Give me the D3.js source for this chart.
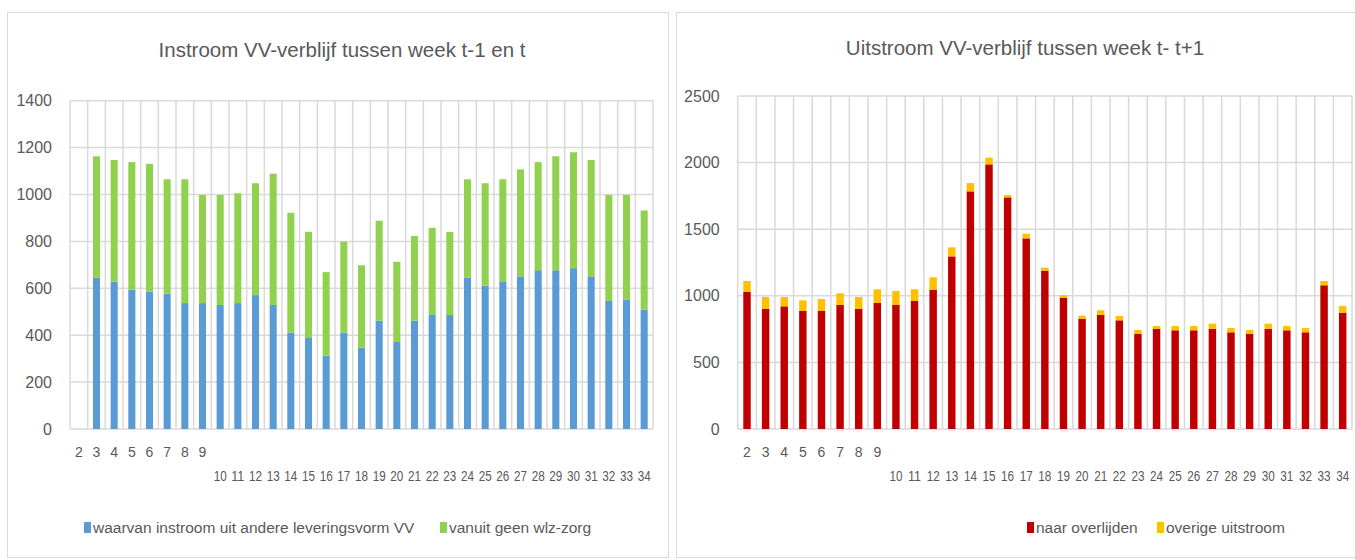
<!DOCTYPE html>
<html>
<head>
<meta charset="utf-8">
<script src="https://cdn.jsdelivr.net/npm/d3@7"></script>
<style>
  body { margin: 0; background: #fff; }
  svg { font-family: "Liberation Sans", Arial, sans-serif; }
</style>
</head>
<body>
<svg id="chart" width="1355" height="560"></svg>
<script>
// weeks on the x axis
var weeks = ["2","3","4","5","6","7","8","9","10","11","12","13","14","15","16","17","18",
             "19","20","21","22","23","24","25","26","27","28","29","30","31","32","33","34"];

// left chart: instroom
var instroomAnders = [0,645,628,594,586,577,537,537,529,537,571,529,411,388,313,411,347,
                      462,371,462,486,486,645,611,630,651,677,677,686,651,546,551,510];
var instroomGeenWlz = [0,518,519,544,545,488,528,461,469,468,477,560,511,453,356,388,351,
                       426,342,361,372,354,420,437,435,456,461,486,494,496,452,447,422];

// right chart: uitstroom
var uitOverlijden = [1031,901,921,886,886,931,901,946,931,961,1046,1296,1784,1987,1739,1431,1189,
                     986,828,856,816,713,753,741,741,753,726,713,753,741,726,1079,873];
var uitOverig = [80,90,70,80,90,88,90,103,105,88,93,68,63,50,18,35,22,
                 18,23,35,32,30,20,32,32,38,32,30,38,32,32,32,50];

var leftTicks = [0,200,400,600,800,1000,1200,1400];
var rightTicks = [0,500,1000,1500,2000,2500];

var svg = d3.select("#chart");
var grid = "#d9d9d9", textCol = "#595959";

function drawPanel(o) {
  var g = svg.append("g");

  // panel border
  g.append("rect")
    .attr("x", o.box[0] + 0.5).attr("y", 12.5)
    .attr("width", o.box[1] - o.box[0]).attr("height", 545)
    .attr("fill", "none").attr("stroke", grid);

  g.append("text")
    .attr("x", o.titleX).attr("y", o.titleY)
    .attr("text-anchor", "middle")
    .attr("font-size", 20.5).attr("fill", textCol)
    .text(o.title);

  var x = d3.scaleBand().domain(weeks)
      .range([o.left, o.right])
      .paddingInner(0.6).paddingOuter(0.3);
  var y = d3.scaleLinear().domain([0, o.max]).range([429, o.top]);

  // horizontal gridlines
  g.selectAll(".hg").data(o.ticks).enter().append("line")
    .attr("x1", o.left).attr("x2", o.right)
    .attr("y1", function(d) { return y(d); }).attr("y2", function(d) { return y(d); })
    .attr("stroke", grid).attr("stroke-width", 1.5);

  // vertical gridlines at category boundaries
  var half = x.step() * x.paddingInner() / 2;
  var bounds = weeks.map(function(d) { return x(d) - half; }).concat([o.right]);
  g.selectAll(".vg").data(bounds).enter().append("line")
    .attr("x1", function(d) { return d; }).attr("x2", function(d) { return d; })
    .attr("y1", y(o.max)).attr("y2", y(0))
    .attr("stroke", grid).attr("stroke-width", 1.5);

  var rows = weeks.map(function(w, i) { return { week: w, a: o.a[i], b: o.b[i] }; });
  var series = d3.stack().keys(["a", "b"])(rows);

  g.selectAll(".s").data(series).enter().append("g")
    .attr("fill", function(d, i) { return o.colors[i]; })
    .selectAll("rect").data(function(d) { return d; }).enter().append("rect")
      .attr("x", function(d) { return x(d.data.week); })
      .attr("width", x.bandwidth())
      .attr("y", function(d) { return y(d[1]); })
      .attr("height", function(d) { return y(d[0]) - y(d[1]); });

  // y axis
  var ya = g.append("g").attr("transform", "translate(" + o.left + ",0)")
    .call(d3.axisLeft(y).tickValues(o.ticks).tickFormat(d3.format("d")).tickSize(0).tickPadding(18));
  ya.select(".domain").remove();
  ya.selectAll("text").attr("font-size", 16).attr("fill", textCol).attr("font-family", null);

  // x axis: single digits on first line, two digits on second
  var xa = g.append("g").attr("transform", "translate(0,429)")
    .call(d3.axisBottom(x).tickSize(0).tickPadding(0));
  xa.select(".domain").remove();
  xa.selectAll("text")
    .attr("font-size", 14).attr("fill", textCol).attr("font-family", null)
    .attr("dy", null)
    .attr("y", function(d) { return d.length > 1 ? 52 : 28; })
    .each(function(d) {
      if (d.length > 1) d3.select(this).attr("textLength", 13).attr("lengthAdjust", "spacingAndGlyphs");
    });

  // legend
  o.legend.forEach(function(l, i) {
    g.append("rect").attr("x", l.x).attr("y", 522).attr("width", 7).attr("height", 11)
      .attr("fill", o.colors[i]);
    g.append("text").attr("x", l.x + 9).attr("y", 533)
      .attr("font-size", 15.5).attr("fill", textCol).text(l.label);
  });
}

drawPanel({
  box: [7, 668], title: "Instroom VV-verblijf tussen week t-1 en t", titleX: 342, titleY: 57,
  left: 70, right: 653, top: 100.7, max: 1400, ticks: leftTicks,
  a: instroomAnders, b: instroomGeenWlz, colors: ["#5b9bd5", "#92d050"],
  legend: [{ x: 84, label: "waarvan instroom uit andere leveringsvorm VV" },
           { x: 440, label: "vanuit geen wlz-zorg" }]
});

drawPanel({
  box: [676, 1374], title: "Uitstroom VV-verblijf tussen week t- t+1", titleX: 1025, titleY: 55,
  left: 737.7, right: 1352, top: 96, max: 2500, ticks: rightTicks,
  a: uitOverlijden, b: uitOverig, colors: ["#c00000", "#ffc000"],
  legend: [{ x: 1027, label: "naar overlijden" },
           { x: 1157, label: "overige uitstroom" }]
});
</script>
</body>
</html>
